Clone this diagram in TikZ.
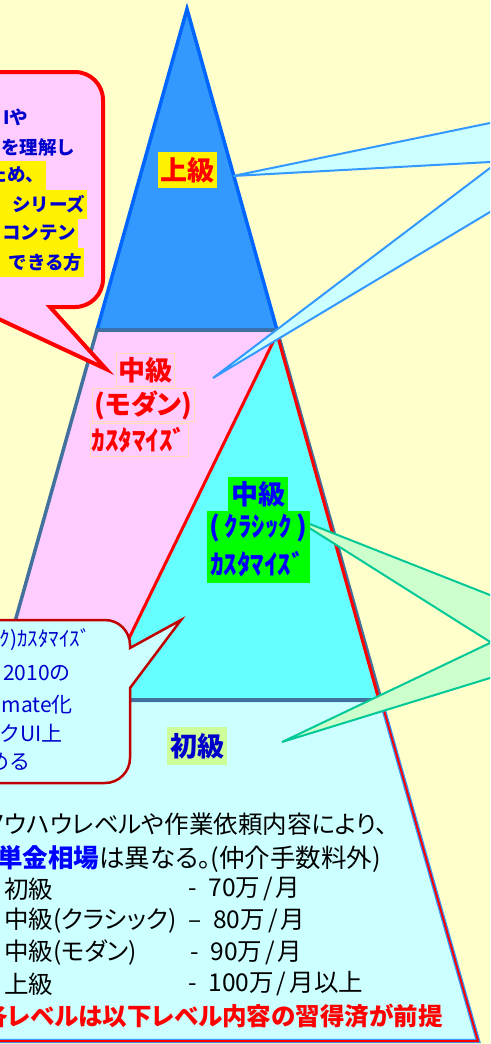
\documentclass[tikz,border=0pt]{standalone}
\usepackage{fontspec}
\setmainfont{Noto Sans CJK JP}[RawFeature=+palt]
\newfontfamily\jpancho{Noto Sans CJK JP}
\usepackage{xcolor}
\usepackage{tikz}

\definecolor{fondo}{HTML}{FFFFCC}
\definecolor{azul}{HTML}{3399FF}
\definecolor{azulvivo}{HTML}{0066FF}
\definecolor{rosa}{HTML}{FFCCFF}
\definecolor{acero}{HTML}{41719C}
\definecolor{cian}{HTML}{66FFFF}
\definecolor{celeste}{HTML}{CCFFFF}
\definecolor{rojoosc}{HTML}{C00000}
\definecolor{verdeclaro}{HTML}{CCFFCC}
\definecolor{verdeborde}{HTML}{00C896}
\definecolor{verde}{HTML}{00FF00}
\definecolor{lima}{HTML}{CCFF99}
\definecolor{melocoton}{HTML}{FFDDBB}
\definecolor{azultexto}{HTML}{0000CC}
\definecolor{azulfuerte}{HTML}{0000FF}

\newcommand{\barra}{\kern3pt/\kern3pt}

\begin{document}
\begin{tikzpicture}[x=1pt, y=-1pt,
    lbl/.style={font=\bfseries\fontsize{27}{30}\selectfont, inner sep=0pt},
    txt/.style={font=\fontsize{24.5}{28}\selectfont, inner sep=0pt, anchor=west}]
					\tikzset{gtxt/.style={font=\jpancho\bfseries\fontsize{18.5}{22}\selectfont, text=azultexto, anchor=east, inner xsep=1.5pt, inner ysep=0pt, minimum height=29pt}}
					\tikzset{btxt/.style={font=\jpancho\fontsize{21}{24}\selectfont, text=azultexto, anchor=east, inner sep=0pt}}
					\tikzset{hl/.style={fill=yellow, text width=120pt, align=right}}

					\useasboundingbox (0,0) rectangle (490,1044);
					\clip (0,0) rectangle (490,1044);
					\fill[fondo] (0,0) rectangle (490,1044);

					% Piramide
					\coordinate (apex) at (187,9);
					\coordinate (tl) at (97,330);
					\coordinate (tr) at (277,330);
					\coordinate (ml) at (-7,700);
					\coordinate (mr) at (381,700);
					\coordinate (bl) at (-103,1041);
					\coordinate (br) at (478,1041);

					\draw[fill=celeste, draw=azul, double=red, double distance=2pt, line width=1.2pt] (ml) -- (mr) -- (br) -- (bl) -- cycle;
					\draw[fill=azul, draw=azulvivo, line width=3.5pt] (apex) -- (tr) -- (tl) -- cycle;
					\draw[fill=rosa, draw=acero, line width=3.5pt] (tl) -- (tr) -- (mr) -- (ml) -- cycle;
					\draw[fill=cian, draw=red, line width=3pt] (277,334) -- (379,700) -- (99,700) -- cycle;
					\draw[acero, line width=4pt] (ml) -- (mr);

					% Globos
					\draw[fill=rosa, draw=red, line width=4pt] (-50,72) -- (75,72) arc[start angle=-90, end angle=0, radius=28] -- (103,279) arc[start angle=0, end angle=90, radius=28] -- (50,307) -- (106,369) -- (-27,307) -- (-50,307) -- cycle;
					\draw[fill=celeste, draw=rojoosc, line width=2.5pt] (-50,620) -- (105,620) arc[start angle=-90, end angle=0, radius=25] -- (130,648) -- (181,620) -- (130,688) -- (130,758) arc[start angle=0, end angle=90, radius=25] -- (-50,783) -- cycle;
					\draw[fill=celeste, draw=azul, line width=2pt] (700,90) -- (492,90) -- (492,122.6) -- (233,176) -- (492,161.9) -- (492,166.5) -- (213,378) -- (492,210.8) -- (492,250) -- (700,250) -- cycle;
					\draw[fill=verdeclaro, draw=verdeborde, line width=2pt] (700,560) -- (492,560) -- (492,595.8) -- (292,517) -- (491,642.5) -- (282,742) -- (492,677.4) -- (492,720) -- (700,720) -- cycle;

					% Texto de los globos
					\node[gtxt] (g1) at (30,117) {Iや};
					\node[gtxt] (g2) at (77,147) {を理解し};
					\node[gtxt, hl] (g3) at (46,175) {ため、};
					\node[gtxt, hl] (g4) at (87,204) {シリーズ};
					\node[gtxt, hl] (g5) at (78,233) {コンテン};
					\node[gtxt, hl] (g6) at (84,262) {できる方};

					\node[btxt] (b1) at (91,640) {ｸ)ｶｽﾀﾏｲｽﾞ};
					\node[btxt] (b2) at (71,673) {2010の};
					\node[btxt] (b3) at (73,705) {mate化};
					\node[btxt] (b4) at (63,733) {クUI上};
					\node[btxt] (b5) at (31,762) {める};

					% Niveles
					\node[lbl, text=red, fill=yellow, minimum width=59pt, minimum height=36pt] (jo) at (187,170) {上級};

					\node[lbl, text=red, fill=rosa, draw=melocoton, line width=0.5pt, inner xsep=2pt, minimum height=33pt] (m1) at (145,370) {中級};
					\node[lbl, text=red, fill=rosa, draw=melocoton, line width=0.5pt, inner xsep=2pt, minimum height=33pt] (m2) at (143.5,405) {(モダン)};
					\node[lbl, text=red, fill=rosa, draw=melocoton, line width=0.5pt, inner xsep=2pt, minimum height=33pt] (m3) at (139,440) {ｶｽﾀﾏｲｽﾞ};

					\node[lbl, text=azulfuerte, fill=verde, minimum width=60pt, minimum height=35pt] (c1) at (258,494) {中級};
					\node[lbl, text=azulfuerte, fill=verde, minimum width=103pt, minimum height=35pt] (c2) at (258.5,528) {(\,ｸﾗｼｯｸ\,)};
					\node[lbl, text=azulfuerte, fill=verde, minimum width=103pt, minimum height=38pt, text width=97pt, align=left] (c3) at (258.5,564) {ｶｽﾀﾏｲｽﾞ};

					\node[lbl, text=azultexto, fill=lima, minimum width=60pt, minimum height=38pt] (sho) at (197,746) {初級};

					% Tarifas
					\node[txt] (t1) at (-15,824) {ノウハウレベルや作業依頼内容により、};
					\node[txt, font=\fontsize{25.5}{28}\selectfont] (t2) at (-3,859) {{\bfseries\color{azulfuerte}単金相場}は異なる。(仲介手数料外)};
					\node[txt] (l1) at (4,889) {初級};
					\node[txt] (l2) at (4,921) {中級(クラシック)};
					\node[txt] (l3) at (4,953) {中級(モダン)};
					\node[txt] (l4) at (4,984) {上級};
					\node[txt] (v1) at (188,889) {-\hspace{12pt}70万\barra 月};
					\node[txt] (v2) at (188,921) {–\hspace{12pt}80万\barra 月};
					\node[txt] (v3) at (190,953) {-\hspace{12pt}90万\barra 月};
					\node[txt] (v4) at (188,984) {-\hspace{12pt}100万\barra 月以上};
					\node[txt, font=\bfseries\fontsize{24.5}{28}\selectfont, text=red] (t3) at (-17,1016) {各レベルは以下レベル内容の習得済が前提};

				\end{tikzpicture}
\end{document}
